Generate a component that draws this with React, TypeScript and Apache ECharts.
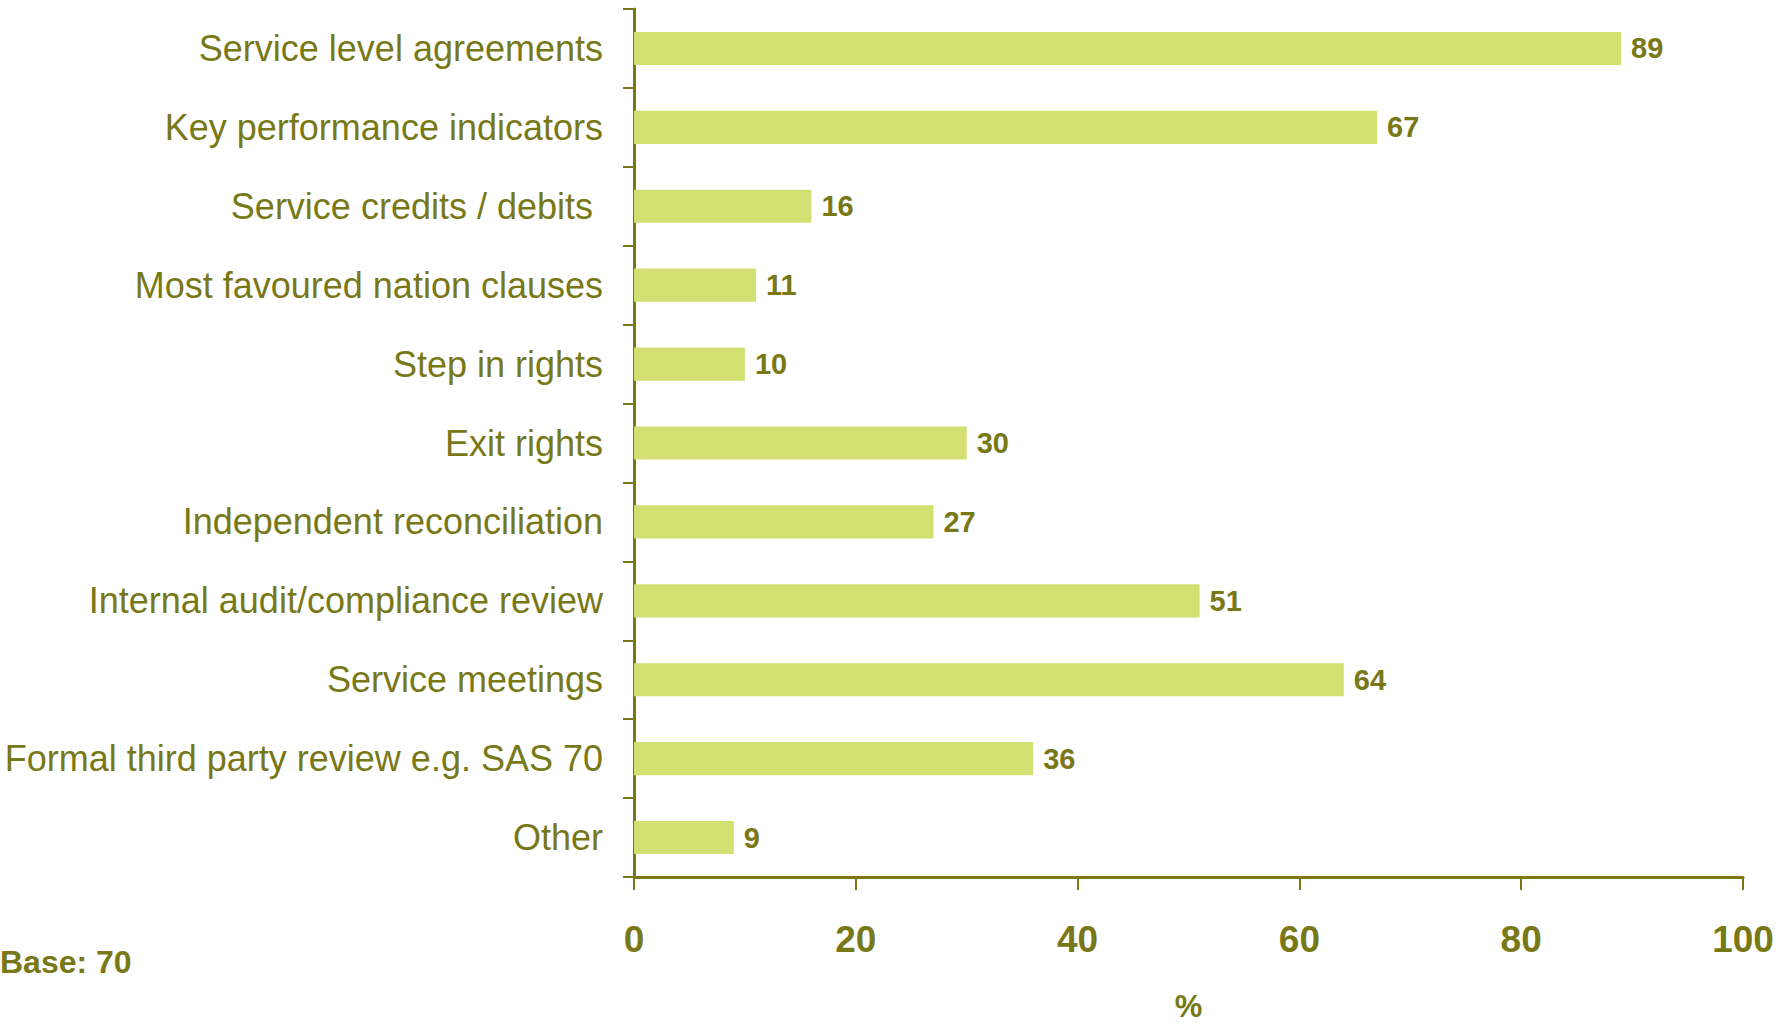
import React, { useEffect, useRef } from "react";
import * as echarts from "echarts";

const categories = [
  "Service level agreements",
  "Key performance indicators",
  "Service credits / debits ",
  "Most favoured nation clauses",
  "Step in rights",
  "Exit rights",
  "Independent reconciliation",
  "Internal audit/compliance review",
  "Service meetings",
  "Formal third party review e.g. SAS 70",
  "Other",
];
const values = [89, 67, 16, 11, 10, 30, 27, 51, 64, 36, 9];
const axisMin = 0;
const axisMax = 100;
const axisStep = 20;
const axisName = "%";
const baseNote = "Base: 70";

const OLIVE = "#787817";
const BAR = "#D1E071";
const FONT = "'Liberation Sans', Arial, sans-serif";

export default function App() {
  const ref = useRef<HTMLDivElement>(null);
  useEffect(() => {
    if (!ref.current) return;
    const chart = echarts.init(ref.current, undefined, { renderer: "svg" });
    chart.setOption({
      animation: false,
      backgroundColor: "#ffffff",
      grid: {
        left: 634,
        right: 48,
        top: 9,
        bottom: 148,
        containLabel: false,
        outerBoundsMode: "none",
      },
      xAxis: {
        type: "value",
        min: axisMin,
        max: axisMax,
        interval: axisStep,
        name: axisName,
        nameLocation: "middle",
        nameGap: 114,
        nameTextStyle: { color: OLIVE, fontFamily: FONT, fontWeight: "bold", fontSize: 31 },
        axisLine: { show: true, lineStyle: { color: OLIVE, width: 3 } },
        axisTick: { show: true, length: 13, lineStyle: { color: OLIVE, width: 2 } },
        axisLabel: { color: OLIVE, fontFamily: FONT, fontWeight: "bold", fontSize: 37, margin: 44 },
        splitLine: { show: false },
      },
      yAxis: {
        type: "category",
        data: categories,
        inverse: true,
        axisLine: { show: true, lineStyle: { color: OLIVE, width: 3 } },
        axisTick: { show: true, inside: false, length: 11, lineStyle: { color: OLIVE, width: 2 } },
        axisLabel: { color: OLIVE, fontFamily: FONT, fontSize: 36, margin: 31 },
      },
      series: [
        {
          type: "bar",
          data: values,
          barCategoryGap: "58%",
          itemStyle: { color: BAR },
          label: {
            show: true,
            position: "right",
            distance: 10,
            color: OLIVE,
            fontFamily: FONT,
            fontWeight: "bold",
            fontSize: 29,
          },
        },
      ],
      graphic: [
        {
          type: "text",
          left: 0,
          top: 946,
          style: { text: baseNote, fill: OLIVE, font: `bold 32px ${FONT}` },
        },
      ],
    });
    return () => chart.dispose();
  }, []);
  return (
    <div
      ref={ref}
      style={{ position: "absolute", left: 0, top: 0, width: 1791, height: 1025 }}
    />
  );
}
